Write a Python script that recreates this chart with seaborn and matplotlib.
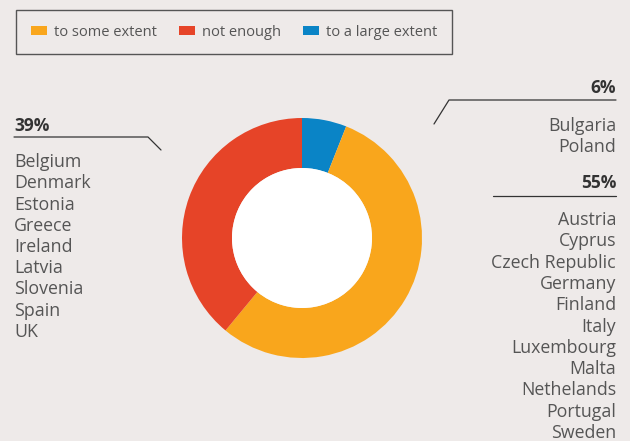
import matplotlib
matplotlib.use("Agg")
import matplotlib.pyplot as plt
import matplotlib.patches as mpatches
import seaborn as sns

categories = ["to a large extent", "to some extent", "not enough"]
values = [6, 55, 39]
colors = ["#0a84c6", "#f9a61c", "#e64428"]
legend_order = ["to some extent", "not enough", "to a large extent"]

label_large = "6%"
label_some = "55%"
label_not = "39%"
countries_large = ["Bulgaria", "Poland"]
countries_some = ["Austria", "Cyprus", "Czech Republic", "Germany", "Finland", "Italy",
                  "Luxembourg", "Malta", "Nethelands", "Portugal", "Sweden"]
countries_not = ["Belgium", "Denmark", "Estonia", "Greece", "Ireland", "Latvia",
                 "Slovenia", "Spain", "UK"]

BG = "#eeeae9"
sns.set_theme(style="white")
plt.rcParams["font.family"] = ["Open Sans", "DejaVu Sans"]

W, H = 630, 441
fig = plt.figure(figsize=(6.3, 4.41), dpi=100, facecolor=BG)
ax = fig.add_axes([0, 0, 1, 1])
ax.set_facecolor(BG)

def Y(py):
    return H - py

cx, cy, R = 302, 238, 120
ax.pie(values, colors=colors, startangle=90, counterclock=False, center=(cx, Y(cy)),
       radius=R, wedgeprops=dict(width=R - 70, linewidth=0), frame=True)
ax.add_patch(mpatches.Circle((cx, Y(cy)), 70, facecolor="white", edgecolor="none", zorder=3))
ax.set_xlim(0, W)
ax.set_ylim(0, H)
ax.set_aspect("equal")
ax.axis("off")

txt_col = "#555555"
pct_col = "#333333"
fs = 12.8
lc = "#333333"
dy = 1

# 39% block (left)
ax.text(14, Y(125 + dy), label_not, fontsize=12.5, fontweight="bold", color=pct_col, ha="left", va="center")
ax.plot([14, 148, 161], [Y(137), Y(137), Y(150)], color=lc, lw=0.9)
for i, c in enumerate(countries_not):
    ax.text(14, Y(161 + dy + i * 21.25), c, fontsize=fs, color=txt_col, ha="left", va="center")

# 6% block (right top)
ax.text(616, Y(87 + dy), label_large, fontsize=12.5, fontweight="bold", color=pct_col, ha="right", va="center")
ax.plot([434, 449, 616], [Y(124), Y(100), Y(100)], color=lc, lw=0.9)
for i, c in enumerate(countries_large):
    ax.text(616, Y(125 + dy + i * 21.3), c, fontsize=fs, color=txt_col, ha="right", va="center")

# 55% block (right)
ax.text(616, Y(182 + dy), label_some, fontsize=12.5, fontweight="bold", color=pct_col, ha="right", va="center")
ax.plot([493, 616], [Y(196), Y(196)], color=lc, lw=0.9)
for i, c in enumerate(countries_some):
    ax.text(616, Y(219 + dy + i * 21.3), c, fontsize=fs, color=txt_col, ha="right", va="center")

# legend
cmap = dict(zip(categories, colors))
handles = [mpatches.Patch(facecolor=cmap[k], edgecolor="none", label=k) for k in legend_order]
leg = ax.legend(handles=handles, ncol=3, loc="upper left",
                bbox_to_anchor=(16 / W, 1 - 10 / H), fontsize=10.5,
                frameon=True, fancybox=False, edgecolor="#555555",
                facecolor=BG, framealpha=1, handlelength=1.1, handleheight=0.6,
                handletextpad=0.5, columnspacing=1.5, borderpad=1.0,
                borderaxespad=0)
leg.get_frame().set_linewidth(1.0)
for t in leg.get_texts():
    t.set_color(txt_col)

fig.savefig("out.png", dpi=100, facecolor=BG)
